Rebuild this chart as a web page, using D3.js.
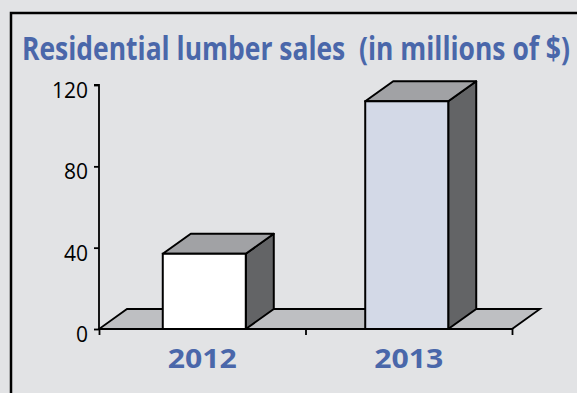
<!DOCTYPE html>
<html>
<head>
<meta charset="utf-8">
<script src="https://cdn.jsdelivr.net/npm/d3@7"></script>
<style>
  html, body { margin: 0; padding: 0; background: #e2e3e5; }
  svg { display: block; }
  text { white-space: pre; }
</style>
</head>
<body>
<svg id="chart" width="577" height="393"></svg>
<script>
// Data
const categories = ["2012", "2013"];
const sales = [37, 112];
const yTicks = [0, 40, 80, 120];
const barFills = ["#ffffff", "#d3d9e7"];
const titleText = "Residential lumber sales  (in millions of $)";

const W = 577, H = 393;
const svg = d3.select("#chart");
const blue = "#4a67aa";
const depth = { dx: 28, dy: -20 };

// Squeeze a text horizontally so it spans the given width
function fitWidth(sel, width, anchorX) {
  sel.each(function () {
    const natural = this.getComputedTextLength();
    const k = width / natural;
    d3.select(this).attr("transform", `translate(${anchorX(this)},0) scale(${k},1) translate(${-anchorX(this)},0)`);
  });
}

// Background and frame
svg.append("rect").attr("width", W).attr("height", H).attr("fill", "#e2e3e5");
svg.append("rect")
  .attr("x", 11).attr("y", 13).attr("width", W + 20).attr("height", H + 20)
  .attr("fill", "#e2e3e5").attr("stroke", "#000").attr("stroke-width", 2.5);

// Title
const title = svg.append("text")
  .attr("x", 22).attr("y", 60)
  .attr("font-family", "Open Sans").attr("font-weight", 700).attr("font-size", 32)
  .attr("fill", blue)
  .text(titleText);
fitWidth(title, 548, () => 22);

// Scales
const x0 = 99, x1 = 512, yBase = 329, yTop = 85;
const y = d3.scaleLinear().domain([0, 120]).range([yBase, yTop]);
const x = d3.scaleBand().domain(categories).range([x0, x1])
  .paddingInner(0.59).paddingOuter(0.315);
const slot = d3.scaleLinear().domain([0, categories.length]).range([x0, x1]);

// Floor
const floorPts = [[x0, yBase], [x1, yBase], [x1 + depth.dx, yBase + depth.dy], [x0 + depth.dx, yBase + depth.dy]];
svg.append("polygon")
  .attr("points", floorPts.map(p => p.join(",")).join(" "))
  .attr("fill", "#bebfc2").attr("stroke", "#000").attr("stroke-width", 1.8)
  .attr("stroke-linejoin", "miter");

// Y axis
const yAxis = svg.append("g")
  .attr("transform", `translate(${x0},0)`)
  .call(d3.axisLeft(y).tickValues(yTicks).tickSize(5).tickPadding(6).tickFormat(d3.format("d")));
yAxis.select(".domain").attr("stroke", "#000").attr("stroke-width", 1.8)
  .attr("d", `M-5,${yTop}H0V${yBase}`);
yAxis.selectAll(".tick line").attr("stroke", "#000").attr("stroke-width", 1.8);
yAxis.selectAll(".tick text")
  .attr("font-family", "Open Sans").attr("font-size", 21).attr("fill", "#000")
  .attr("dy", "0.6em");

// X axis: boundary ticks between categories
const xAxis = svg.append("g")
  .attr("transform", `translate(0,${yBase})`)
  .call(d3.axisBottom(slot).tickValues(d3.range(categories.length + 1)).tickSize(6).tickFormat(""));
xAxis.select(".domain").attr("stroke", "#000").attr("stroke-width", 1.8)
  .attr("d", `M${x0},0H${x1}`);
xAxis.selectAll(".tick line").attr("stroke", "#000").attr("stroke-width", 1.8);

// 3D bars
const bars = svg.append("g").selectAll("g").data(categories).join("g");
bars.each(function (c, i) {
  const g = d3.select(this);
  const bx = x(c), bw = x.bandwidth(), ty = y(sales[i]);
  const side = [[bx + bw, ty], [bx + bw + depth.dx, ty + depth.dy], [bx + bw + depth.dx, yBase + depth.dy], [bx + bw, yBase]];
  const top = [[bx, ty], [bx + depth.dx, ty + depth.dy], [bx + bw + depth.dx, ty + depth.dy], [bx + bw, ty]];
  g.append("polygon").attr("points", side.map(p => p.join(",")).join(" "))
    .attr("fill", "#636466").attr("stroke", "#000").attr("stroke-width", 2).attr("stroke-linejoin", "round");
  g.append("polygon").attr("points", top.map(p => p.join(",")).join(" "))
    .attr("fill", "#a1a2a5").attr("stroke", "#000").attr("stroke-width", 2).attr("stroke-linejoin", "round");
  g.append("rect").attr("x", bx).attr("y", ty).attr("width", bw).attr("height", yBase - ty)
    .attr("fill", barFills[i]).attr("stroke", "#000").attr("stroke-width", 2);
});

// Category labels
const catLabels = svg.append("g").selectAll("text").data(categories).join("text")
  .attr("x", (d, i) => slot(i + 0.5))
  .attr("y", 368)
  .attr("text-anchor", "middle")
  .attr("font-family", "Open Sans").attr("font-weight", 700).attr("font-size", 26)
  .attr("fill", blue)
  .attr("textLength", 69).attr("lengthAdjust", "spacingAndGlyphs")
  .text(d => d);
</script>
</body>
</html>
